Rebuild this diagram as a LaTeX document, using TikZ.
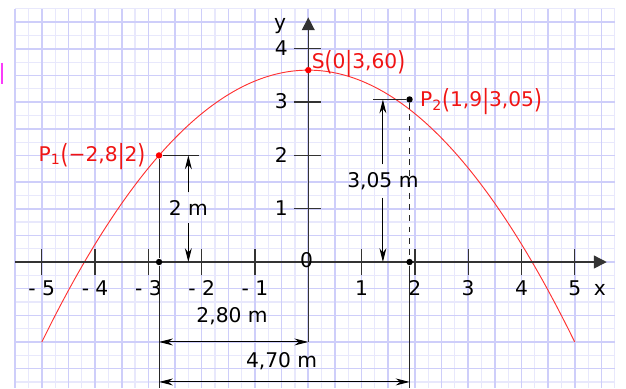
\documentclass[tikz,border=0pt]{standalone}
\usepackage{fontspec}
\setmainfont{DejaVu Sans}
\usepackage{graphicx}
\usetikzlibrary{arrows.meta,positioning,calc}
\definecolor{gridmaj}{RGB}{206,206,250}
\definecolor{gridmin}{RGB}{232,232,252}
\definecolor{parab}{RGB}{255,50,50}
\definecolor{labred}{RGB}{240,20,20}
\definecolor{cursor}{RGB}{250,60,250}
\newcommand{\tallp}[1]{\raisebox{-0.1em}{\scalebox{1}[1.3]{#1}}}

\begin{document}
\begin{tikzpicture}[
  font=\fontsize{10.8}{13}\selectfont,
  axis/.style={draw=black!80, line width=0.7pt},
  axarr/.style={axis, -{Triangle[length=2.4mm,width=2.4mm]}},
  ext/.style={draw=black!85, line width=0.55pt},
  dim/.style={draw=black, line width=0.5pt, -{Stealth[length=2.6mm,width=1.3mm]}},
  dimboth/.style={dim, {Stealth[length=2.6mm,width=1.3mm]}-{Stealth[length=2.6mm,width=1.3mm]}},
  ptdot/.style={circle, inner sep=0pt, minimum size=1.2mm},
  rdot/.style={ptdot, fill=red},
  bdot/.style={ptdot, fill=black},
  ticklab/.style={inner sep=0pt},
  ptlab/.style={text=labred, inner sep=0pt},
  dimlab/.style={inner xsep=0pt, inner ysep=4pt}
]
\useasboundingbox (-5.784,-2.364) rectangle (5.961,4.916);
\draw[gridmin, line width=0.6pt, step=0.25] (-5.5,-2.364) grid (5.75,4.75);
\draw[gridmaj, line width=0.85pt, step=0.5] (-5.5,-2.364) grid (5.75,4.75);
\coordinate (cur1) at (-5.747,3.74);
\coordinate (cur2) at (-5.747,3.34);
\draw[cursor, line width=1.4pt] (cur1) -- (cur2);
\draw[parab, line width=0.5pt] plot[domain=-5:5, samples=80, smooth] (\x,{3.6-0.2041*\x*\x});
\coordinate (xa) at (-5.5,0);
\coordinate (xb) at (5.6,0);
\coordinate (ya) at (0,-1.5);
\coordinate (yb) at (0,4.59);
\draw[axarr] (xa) -- (xb);
\draw[axarr] (ya) -- (yb);
\foreach \x in {-5,-4,-3,-2,-1,1,2,3,4,5}{\draw[axis] (\x,-0.25) -- (\x,0.25);}
\foreach \y in {1,2,3,4}{\draw[axis] (-0.27,\y) -- (0.24,\y);}
\foreach \x in {1,...,5}{
  \node[ticklab, anchor=base] (xp\x) at (\x,-0.62) {\x};
  \node[ticklab, anchor=base] (xn\x) at (-\x,-0.62) {- \x};
}
\foreach \y in {1,...,4}{\node[ticklab, anchor=base east] (yl\y) at (-0.38,\y-0.125) {\y};}
\node[ticklab, anchor=base] (orig) at (-0.03,-0.11) {0};
\node[ticklab, anchor=base] (ylab) at (-0.53,4.37) {y};
\node[ticklab, anchor=base] (xlab) at (5.47,-0.62) {x};
\node[rdot] (S) at (0,3.6) {};
\node[rdot] (P1) at (-2.8,2) {};
\node[bdot] (P2) at (1.9,3.05) {};
\node[bdot] (F1) at (-2.8,0) {};
\node[bdot] (F2) at (1.9,0) {};
\coordinate (e1) at (-2.05,2);
\coordinate (e2) at (1.22,3.05);
\coordinate (b1) at (-2.8,-2.364);
\coordinate (b2) at (1.9,-2.364);
\draw[ext] (P1) -- (e1);
\draw[ext] (P1) -- (F1);
\draw[ext] (F1) -- (b1);
\draw[ext] (e2) -- (P2);
\draw[ext, dashed] (P2) -- (F2);
\draw[ext] (F2) -- (b2);
\coordinate (v1t) at (-2.25,2);
\coordinate (v1b) at (-2.25,0);
\node[dimlab] (v1) at (-2.25,1.02) {2 m};
\draw[dim] (v1) -- (v1t);
\draw[dim] (v1) -- (v1b);
\coordinate (v2t) at (1.4,3.05);
\coordinate (v2b) at (1.4,0);
\node[dimlab] (v2) at (1.4,1.52) {3,05 m};
\draw[dim] (v2) -- (v2t);
\draw[dim] (v2) -- (v2b);
\coordinate (h1l) at (-2.8,-1.5);
\coordinate (h1r) at (0,-1.5);
\coordinate (h2l) at (-2.8,-2.25);
\coordinate (h2r) at (1.9,-2.25);
\draw[dimboth] (h1l) -- (h1r);
\draw[dimboth] (h2l) -- (h2r);
\node[ticklab, anchor=base] (w1) at (-1.43,-1.14) {2,80 m};
\node[ticklab, anchor=base] (w2) at (-0.5,-1.97) {4,70 m};
\node[ptlab, anchor=base west] (Slab) at (0.06,3.634) {S\tallp{(}0\tallp{|}3,60\tallp{)}};
\node[ptlab, anchor=base east] (P1lab) at (-3.05,1.882) {P\textsubscript{1}\tallp{(}−2,8\tallp{|}2\tallp{)}};
\node[ptlab, anchor=base west] (P2lab) at (2.09,2.915) {P\textsubscript{2}\tallp{(}1,9\tallp{|}3,05\tallp{)}};
\end{tikzpicture}
\end{document}
